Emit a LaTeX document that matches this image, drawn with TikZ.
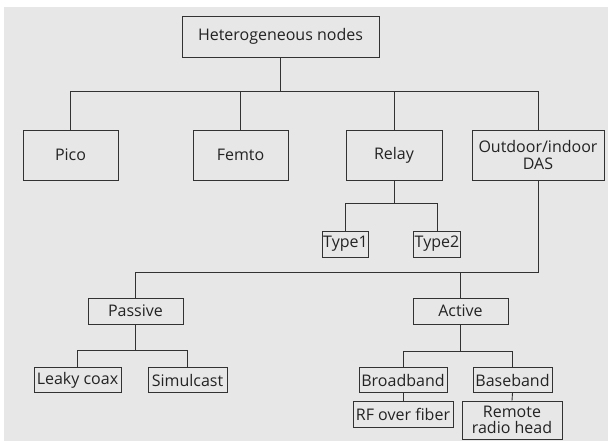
\documentclass[tikz,border=0pt]{standalone}
\usepackage{fontspec}
\setmainfont{Open Sans}
\usepackage{tikz}
\usetikzlibrary{positioning,calc}
\definecolor{bgGray}{RGB}{231,231,231}
\definecolor{lineGray}{RGB}{50,50,50}
\definecolor{textGray}{RGB}{35,35,35}
\tikzset{
  nodebox/.style={draw=lineGray, line width=0.9pt, text=textGray, inner sep=1pt,
    align=center, font=\fontsize{16}{16.5}\selectfont},
  tree/.style={draw=lineGray, line width=0.9pt}
}

\begin{document}
\begin{tikzpicture}[x=1pt, y=-1pt]
  \useasboundingbox (0,0) rectangle (608,441);
  \fill[bgGray] (4,7) rectangle (608,441);
  % Top level
  \node[nodebox, minimum width=197pt, minimum height=41pt] (het) at (280.5,36.5) {Heterogeneous nodes};
  \node[nodebox, minimum width=95pt, minimum height=50pt] (pico) at (70.5,155) {Pico};
  \node[nodebox, minimum width=95pt, minimum height=50pt] (femto) at (240.5,155) {Femto};
  \node[nodebox, minimum width=96pt, minimum height=50pt] (relay) at (394,155) {Relay};
  \node[nodebox, minimum width=132pt, minimum height=50pt] (das) at (538,155) {Outdoor/indoor\\DAS};
  % Relay types
  \node[nodebox, minimum width=45pt, minimum height=26pt] (type1) at (345.5,244) {Type1};
  \node[nodebox, minimum width=44pt, minimum height=26pt] (type2) at (437,244) {Type2};
  % DAS branches
  \node[nodebox, minimum width=95pt, minimum height=26pt] (passive) at (135.5,311) {Passive};
  \node[nodebox, minimum width=95pt, minimum height=26pt] (active) at (460.5,311) {Active};
  \node[nodebox, minimum width=87pt, minimum height=25pt] (leaky) at (77.5,380) {Leaky coax};
  \node[nodebox, minimum width=79pt, minimum height=25pt] (simul) at (187.5,380) {Simulcast};
  \node[nodebox, minimum width=88pt, minimum height=25pt] (broad) at (403,380) {Broadband};
  \node[nodebox, minimum width=79pt, minimum height=25pt] (base) at (512.5,380) {Baseband};
  \node[nodebox, minimum width=100pt, minimum height=26pt] (rf) at (403,414) {RF over fiber};
  \node[nodebox, minimum width=100pt, minimum height=38pt] (rrh) at (512,420) {Remote\\radio head};
  % Connectors
  \draw[tree] (het.south) -- ++(0,34) coordinate (hetj) -| (pico.north);
  \draw[tree] (hetj) -| (das.north);
  \draw[tree] (femto.north) -- (femto.north |- hetj);
  \draw[tree] (relay.north) -- (relay.north |- hetj);
  \draw[tree] (relay.south) -- ++(0,23) coordinate (relj) -| (type1.north);
  \draw[tree] (relj) -| (type2.north);
  \draw[tree] (das.south) -- ++(0,92) coordinate (dasj) -| (passive.north);
  \draw[tree] (active.north) -- (active.north |- dasj);
  \draw[tree] (passive.south) -- ++(0,26) coordinate (pasj) -| (leaky.north);
  \draw[tree] (pasj) -| (simul.north);
  \draw[tree] (active.south) -- ++(0,27) coordinate (actj) -| (broad.north);
  \draw[tree] (actj) -| (base.north);
  \draw[tree] (broad.south) -- (rf.north);
  \draw[tree] (base.south) -- (rrh.north);
\end{tikzpicture}
\end{document}
